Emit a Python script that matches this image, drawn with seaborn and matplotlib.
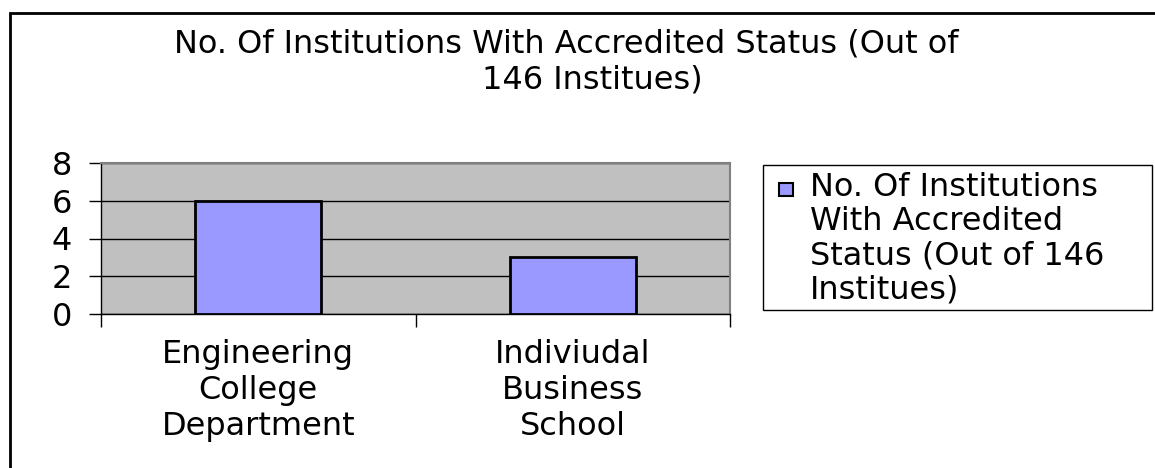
import seaborn as sns
import matplotlib.pyplot as plt
from matplotlib.patches import Rectangle
import pandas as pd

sns.set_theme(style="white")
plt.rcParams['font.family'] = ['DejaVu Sans']
plt.rcParams['text.color'] = 'black'
plt.rcParams['xtick.color'] = 'black'
plt.rcParams['ytick.color'] = 'black'

# data
categories = ["Engineering\nCollege\nDepartment", "Indiviudal\nBusiness\nSchool"]
values = [6, 3]
legend_label = "No. Of Institutions\nWith Accredited\nStatus (Out of 146\nInstitues)"
title_lines = ["No. Of Institutions With Accredited Status (Out of", "146 Institues)"]
yticks = [0, 2, 4, 6, 8]

df = pd.DataFrame({"category": categories, "count": values})

FS = 23
W, H = 1155, 468
fig = plt.figure(figsize=(W / 100, H / 100), dpi=100)
fig.patch.set_facecolor("white")

# plot area in pixel coords
x0, x1, ytop, ybot = 101, 730, 163, 314
ax = fig.add_axes([x0 / W, 1 - ybot / H, (x1 - x0) / W, (ybot - ytop) / H])
ax.set_facecolor("#C0C0C0")

sns.barplot(data=df, x="category", y="count", color="#9999FF", edgecolor="black",
            linewidth=2, width=0.4, saturation=1, ax=ax, zorder=3)

ax.set_ylim(0, 8)
ax.set_xlim(-0.5, 1.5)
ax.set_yticks(yticks)
ax.set_yticklabels([str(t) for t in yticks], fontsize=FS)
ax.yaxis.grid(True, color="black", linewidth=1)
ax.set_axisbelow(True)

# category boundaries get the ticks, labels sit on minor ticks
ax.set_xticks([-0.5, 0.5, 1.5])
ax.set_xticklabels([])
ax.set_xticks([0, 1], minor=True)
ax.set_xticklabels(categories, minor=True, fontsize=FS, linespacing=1.21)
ax.tick_params(axis="x", which="major", direction="out", length=9, width=1, bottom=True)
ax.tick_params(axis="x", which="minor", length=0, pad=18)
ax.tick_params(axis="y", direction="out", length=9, width=1, left=True, pad=12)
ax.set_xlabel("")
ax.set_ylabel("")

for side in ["left", "bottom"]:
    ax.spines[side].set_color("black")
    ax.spines[side].set_linewidth(1)
for side in ["top", "right"]:
    ax.spines[side].set_color("#808080")
    ax.spines[side].set_linewidth(1.5)

# title, two lines as in the original
fig.text(566 / W, 1 - 44 / H, title_lines[0], ha="center", va="center", fontsize=FS)
fig.text(592 / W, 1 - 80 / H, title_lines[1], ha="center", va="center", fontsize=FS)

# legend drawn by hand (marker beside the first line)
lx, ly, lw, lh = 763, 165, 389, 145
fig.add_artist(Rectangle((lx / W, 1 - (ly + lh) / H), lw / W, lh / H,
                         transform=fig.transFigure, facecolor="white",
                         edgecolor="black", linewidth=1))
fig.add_artist(Rectangle((779 / W, 1 - 196 / H), 14 / W, 13 / H,
                         transform=fig.transFigure, facecolor="#9999FF",
                         edgecolor="black", linewidth=1.5))
fig.text(810 / W, 1 - 172 / H, legend_label,
         ha="left", va="top", fontsize=FS, linespacing=1.13)

# outer chart frame (runs off the right and bottom edges)
top = 1 - 13 / H
fig.add_artist(Rectangle((10 / W, -0.2), 1.2, top + 0.2,
                         transform=fig.transFigure, fill=False,
                         edgecolor="black", linewidth=2))

fig.savefig("out.png", dpi=100)
